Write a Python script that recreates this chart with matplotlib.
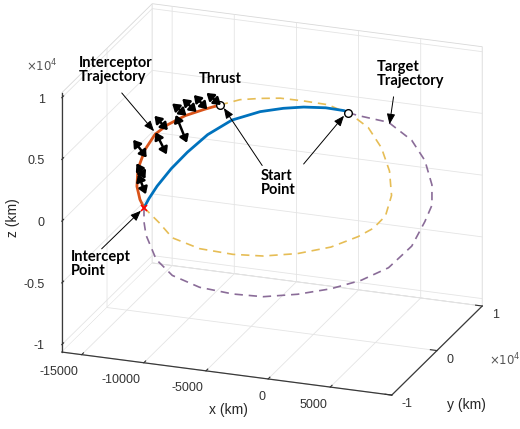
import numpy as np
import matplotlib
matplotlib.use('Agg')
import matplotlib.pyplot as plt
from matplotlib.patches import FancyArrowPatch
from mpl_toolkits.mplot3d import proj3d

# axis limits (km)
x_lim = (-16600, 9950)
y_lim = (-10000, 10000)
z_lim = (-10600, 10400)

x_ticks = [-15000, -10000, -5000, 0, 5000]
y_ticks = [-10000, 0, 10000]
y_tick_labels = ['-1', '0', '1']
z_ticks = [-10000, -5000, 0, 5000, 10000]
z_tick_labels = ['-1', '-0.5', '0', '0.5', '1']

# trajectories (km), all lying in the y = 0 plane
# target: flown part (start point -> intercept point)
target_x = [2797, 2472, 1008, -780, -2406, -4276, -6553, -8504, -10130,
            -11431, -12569, -13219, -13626]
target_z = [7732, 7850, 7887, 7713, 7398, 6883, 5898, 4464, 2831,
            1326, -237, -1319, -2119]

# target orbit, rest of it (dashed)
target_orbit_x = [2797, 3610, 6049, 7919, 8976, 9545, 9545, 8976, 7919, 6049,
                  3854, 1415, -1268, -4032, -6471, -9154, -11349, -12650,
                  -13463, -13626, -13626]
target_orbit_z = [7732, 7601, 7375, 6160, 4664, 2768, 1121, -278, -2407, -4404,
                  -5707, -6716, -7513, -8074, -8176, -7984, -7310, -6179,
                  -4319, -3272, -2119]

# interceptor: thrust point -> intercept point
interceptor_x = [-7528, -8748, -10293, -11756, -12732, -13545, -14114,
                 -14195, -13951, -13626]
interceptor_z = [6993, 6488, 5773, 4822, 3941, 2589, 942, -470, -1506, -2119]

# interceptor orbit, rest of it (dashed)
interceptor_orbit_x = [-7528, -5902, -4276, -2650, -780, 1171, 3041, 4423,
                       5480, 6130, 6293, 5805, 4829, 3610, 1415, -1268, -4032,
                       -6471, -9154, -11349, -12406, -13626]
interceptor_orbit_z = [6993, 7638, 7954, 8187, 8207, 8158, 7602, 6730, 5234,
                       3432, 1479, -239, -1367, -2201, -3339, -4218, -4779,
                       -4964, -4854, -4263, -3179, -2119]

# thrust vectors: centre and half vector
thrust_x = [-8016, -9073, -9967, -10780, -10618, -12244, -12244, -13951,
            -13870, -13788]
thrust_z = [7417, 7019, 6643, 6198, 4656, 4917, 3269, 2613, 812, -247]
thrust_dx = [580, 540, 580, 580, 450, 540, 450, 540, 360, 315]
thrust_dz = [-415, -510, -460, -415, -1070, -510, -840, -650, -585, -770]

start_point = (2797, 0, 7732)
thrust_point = (-7528, 0, 6993)
intercept_point = (-13626, 0, -2119)

# callout arrows (tail -> tip), km
callout_tail_x = [-15414, -4114, -780, 6455, -17032]
callout_tail_z = [6933, 2540, 3100, 9492, -5902]
callout_tip_x = [-12813, -7203, 2472, 6130, -13870]
callout_tip_z = [4176, 6792, 7438, 7221, -2400]

W, H = 520, 429


class Arrow3D(FancyArrowPatch):
    def __init__(self, xs, ys, zs, *args, **kwargs):
        super().__init__((0, 0), (0, 0), *args, **kwargs)
        self._verts3d = xs, ys, zs

    def do_3d_projection(self, renderer=None):
        xs3d, ys3d, zs3d = self._verts3d
        xs, ys, zs = proj3d.proj_transform(xs3d, ys3d, zs3d, self.axes.M)
        self.set_positions((xs[0], ys[0]), (xs[1], ys[1]))
        return np.min(zs)


def fig_xy(x, y):
    return x / W, 1 - y / H


plt.rcParams['grid.color'] = '#e4e4e4'
plt.rcParams['grid.linewidth'] = 0.6
plt.rcParams['font.family'] = ['Liberation Sans', 'DejaVu Sans']

fig = plt.figure(figsize=(W / 100, H / 100), dpi=100)
ax = fig.add_axes([66.6 / W, 24.2 / H, 400 / W, 400 / H],
                  projection='3d', proj_type='ortho')
ax.set_xlim(x_lim)
ax.set_ylim(y_lim)
ax.set_zlim(z_lim)
ax.set_box_aspect((np.ptp(x_lim), np.ptp(y_lim), np.ptp(z_lim)), zoom=1.262)
ax.view_init(elev=21, azim=-70)

ax.set_xticks(x_ticks)
ax.set_xticklabels([str(t) for t in x_ticks], ha='right', va='top')
ax.set_yticks(y_ticks)
ax.set_yticklabels(y_tick_labels, ha='left', va='center')
ax.set_zticks(z_ticks)
ax.set_zticklabels(z_tick_labels, ha='right', va='center')
ax.zaxis.set_ticks_position('lower')

for axis in (ax.xaxis, ax.yaxis, ax.zaxis):
    axis.set_pane_color((1, 1, 1, 1))
    axis.pane.set_edgecolor('#d8d8d8')
    axis.pane.set_linewidth(0.6)
    axis.line.set_color('#3a3a3a')
    axis.line.set_linewidth(0.9)
    axis._axinfo['tick']['inward_factor'] = 0.0
    axis._axinfo['tick']['outward_factor'] = 0.25
ax.tick_params(axis='both', labelsize=9, labelcolor='#333333', colors='#333333')
ax.tick_params(axis='z', labelsize=9, labelcolor='#333333', colors='#333333')
ax.xaxis.set_tick_params(pad=-3)
ax.yaxis.set_tick_params(pad=-3.5)
ax.zaxis.set_tick_params(pad=-2)

zeros = lambda a: np.zeros(len(a))
ax.plot(target_orbit_x, zeros(target_orbit_x), target_orbit_z, color='#8a6c98',
        lw=1.2, dashes=(5, 3.5))
ax.plot(interceptor_orbit_x, zeros(interceptor_orbit_x), interceptor_orbit_z,
        color='#e6bd55', lw=1.2, dashes=(5, 3.5))
ax.plot(target_x, zeros(target_x), target_z, color='#0072BD', lw=2.0)
ax.plot(interceptor_x, zeros(interceptor_x), interceptor_z, color='#D95319', lw=2.0)

for p in (start_point, thrust_point):
    ax.plot([p[0]], [p[1]], [p[2]], 'o', mfc='white', mec='black', ms=5.5, mew=1)
ax.plot([intercept_point[0]], [intercept_point[1]], [intercept_point[2]], 'x',
        color='red', ms=4, mew=1.2)

for cx, cz, dx, dz in zip(thrust_x, thrust_z, thrust_dx, thrust_dz):
    arr = Arrow3D([cx - dx, cx + dx], [0, 0], [cz - dz, cz + dz],
                  arrowstyle='<|-|>,head_length=0.45,head_width=0.3',
                  mutation_scale=9, lw=1.8, color='black',
                  shrinkA=0, shrinkB=0)
    ax.add_artist(arr)

for tx, tz, hx, hz in zip(callout_tail_x, callout_tail_z, callout_tip_x, callout_tip_z):
    arr = Arrow3D([tx, hx], [0, 0], [tz, hz],
                  arrowstyle='-|>,head_length=0.7,head_width=0.28',
                  mutation_scale=9, lw=0.7, color='black',
                  shrinkA=0, shrinkB=0)
    ax.add_artist(arr)

# axis labels and exponents
fig.text(*fig_xy(228, 410), 'x (km)', ha='center', va='center', fontsize=10, color='#262626')
fig.text(*fig_xy(466, 405), 'y (km)', ha='center', va='center', fontsize=10, color='#262626')
fig.text(*fig_xy(13, 218), 'z (km)', ha='center', va='center', fontsize=10,
         rotation=90, color='#262626')
fig.text(*fig_xy(42, 66), r'$\times10^{4}$', ha='center', va='center', fontsize=8.5,
         color='#555555')
fig.text(*fig_xy(505, 360), r'$\times10^{4}$', ha='center', va='center', fontsize=8.5,
         color='#555555')

# annotations
ann = dict(fontsize=10.5, fontweight='bold', family=['Lato', 'DejaVu Sans'],
           ha='left', va='top', linespacing=1.02, color='black')
fig.text(*fig_xy(79, 56), 'Interceptor\nTrajectory', **ann)
fig.text(*fig_xy(199, 72), 'Thrust', **ann)
fig.text(*fig_xy(377, 60), 'Target\nTrajectory', **ann)
fig.text(*fig_xy(261, 169), 'Start\nPoint', **ann)
fig.text(*fig_xy(71, 250), 'Intercept\nPoint', **ann)

ax.set_xlabel('')
ax.set_ylabel('')
ax.set_zlabel('')

fig.savefig('out.png', dpi=100, facecolor='white')
